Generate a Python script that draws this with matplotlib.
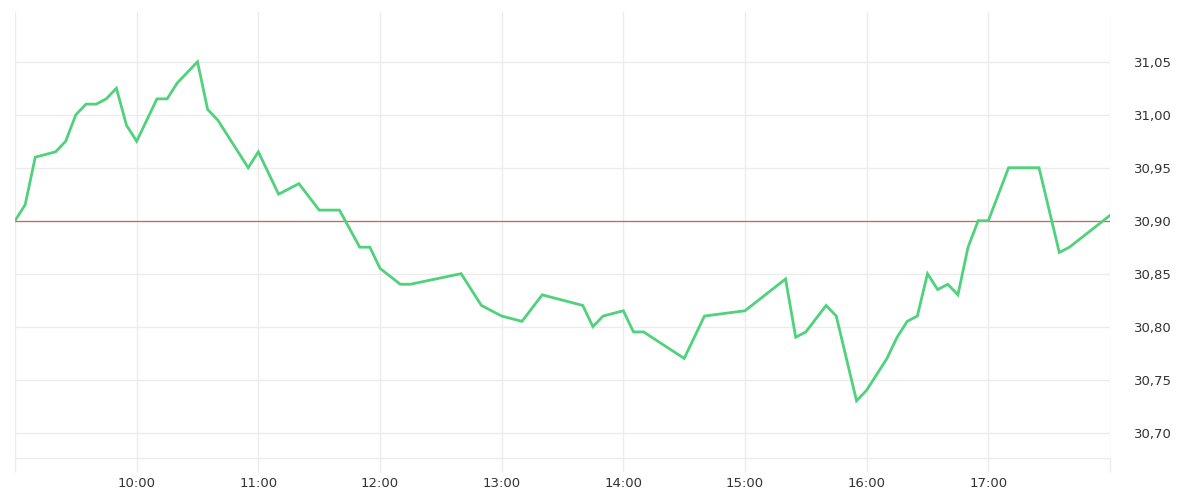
import matplotlib
matplotlib.use("Agg")
import matplotlib.pyplot as plt
import matplotlib.dates as mdates
from matplotlib.ticker import FuncFormatter, FixedLocator
from datetime import datetime

times = ["09:00", "09:05", "09:10", "09:20", "09:25", "09:30", "09:35", "09:40", "09:45",
         "09:50", "09:55", "10:00", "10:10", "10:15", "10:20", "10:30", "10:35", "10:40",
         "10:55", "11:00", "11:10", "11:20", "11:30", "11:40", "11:50", "11:55", "12:00",
         "12:10", "12:15", "12:40", "12:50", "13:00", "13:10", "13:20", "13:40", "13:45",
         "13:50", "14:00", "14:05", "14:10", "14:30", "14:40", "15:00", "15:20", "15:25",
         "15:30", "15:40", "15:45", "15:55", "16:00", "16:10", "16:15", "16:20", "16:25",
         "16:30", "16:35", "16:40", "16:45", "16:50", "16:55", "17:00", "17:10", "17:25",
         "17:35", "17:40", "18:00"]
prices = [30.90, 30.915, 30.96, 30.965, 30.975, 31.00, 31.01, 31.01, 31.015,
          31.025, 30.99, 30.975, 31.015, 31.015, 31.03, 31.05, 31.005, 30.995,
          30.95, 30.965, 30.925, 30.935, 30.91, 30.91, 30.875, 30.875, 30.855,
          30.84, 30.84, 30.85, 30.82, 30.81, 30.805, 30.83, 30.82, 30.80,
          30.81, 30.815, 30.795, 30.795, 30.77, 30.81, 30.815, 30.845, 30.79,
          30.795, 30.82, 30.81, 30.73, 30.74, 30.77, 30.79, 30.805, 30.81,
          30.85, 30.835, 30.84, 30.83, 30.875, 30.90, 30.90, 30.95, 30.95,
          30.87, 30.875, 30.905]
reference_price = 30.90
y_ticks = [30.70, 30.75, 30.80, 30.85, 30.90, 30.95, 31.00, 31.05]
x_hours = list(range(9, 19))
x_labels = ["", "10:00", "11:00", "12:00", "13:00", "14:00", "15:00", "16:00", "17:00", ""]

day = datetime(2024, 1, 2)
def to_dt(s):
    h, m = s.split(":")
    return day.replace(hour=int(h), minute=int(m))

xs = [mdates.date2num(to_dt(t)) for t in times]
tick_pos = [mdates.date2num(day.replace(hour=h)) for h in x_hours]

grid_c = "#ececec"
fig = plt.figure(figsize=(12, 5), dpi=100)
ax = fig.add_axes([0.0125, 0.084, 0.9125, 0.892])

ax.plot(xs, prices, color="#4fd27b", lw=2.0, solid_joinstyle="miter", zorder=3)
ax.axhline(reference_price, color="#e05a5a", lw=0.9, zorder=2)

ax.set_xlim(tick_pos[0], tick_pos[-1])
ax.set_ylim(30.676, 31.097)

ax.xaxis.set_major_locator(FixedLocator(tick_pos))
ax.set_xticklabels(x_labels)
ax.yaxis.set_major_locator(FixedLocator(y_ticks))
ax.yaxis.set_major_formatter(FuncFormatter(lambda v, p: f"{v:.2f}".replace(".", ",")))
ax.yaxis.tick_right()

ax.grid(True, color=grid_c, lw=1.0, zorder=0)
ax.tick_params(axis="x", length=10, width=1.0, color=grid_c, labelsize=9.5,
               labelcolor="#333333", pad=4)
ax.tick_params(axis="y", length=0, labelsize=9.5, labelcolor="#333333", pad=17)

for s in ["top", "left", "right"]:
    ax.spines[s].set_visible(False)
ax.spines["bottom"].set_color(grid_c)
ax.spines["bottom"].set_linewidth(1.0)

fig.savefig("out.png", dpi=100, facecolor="white")
